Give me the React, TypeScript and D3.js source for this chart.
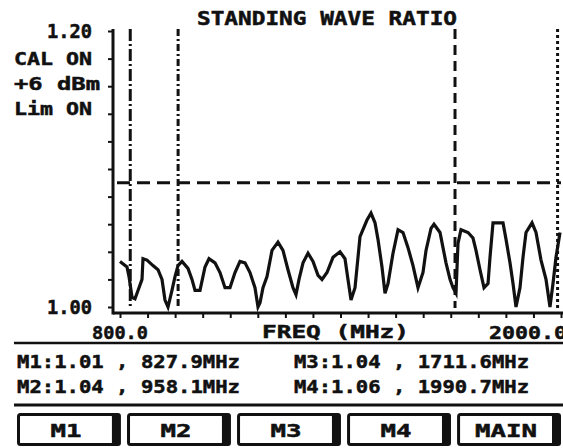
import { useRef, useEffect } from 'react'
import * as d3 from 'd3'

const W = 563
const H = 448
const FONT = "'DejaVu Sans Mono', monospace"

// trace, MHz / SWR
const FREQ = [
  800, 819, 824.5, 832.7, 840.8, 849, 859.9, 862.6, 873.5, 889.8, 903.4, 914.3, 922.4, 930.6, 941.4,
  949.7, 957.8, 968.7, 985, 995.9, 1004.1, 1017.7, 1031.3, 1042.2, 1058.5, 1072.1, 1085.7, 1099.3,
  1112.9, 1126.5, 1140.1, 1153.7, 1167.3, 1175.5, 1181, 1189.1, 1200, 1213.6, 1229.9, 1243.5, 1257.1,
  1270.7, 1278.9, 1287.1, 1298, 1311.6, 1325.2, 1338.8, 1349.7, 1363.3, 1379.6, 1398.6, 1412.2,
  1420.4, 1428.6, 1439.5, 1453.1, 1472.1, 1483, 1493.9, 1502, 1512.9, 1521.1, 1529.3, 1542.9, 1556.5,
  1570.1, 1583.7, 1597.3, 1610.9, 1624.5, 1632.7, 1646.3, 1654.4, 1670.8, 1678.9, 1687.1, 1698,
  1706.1, 1714.3, 1719.7, 1727.9, 1747, 1760.5, 1768.7, 1779.6, 1790.5, 1801.4, 1806.8, 1815, 1842.2,
  1850.4, 1861.2, 1869.4, 1877.6, 1888.4, 1896.6, 1904.8, 1921.1, 1932, 1945.6, 1959.2, 1970, 1978.2,
  1986.4, 1997.3,
]
const SWR = [
  1.033, 1.029, 1.022, 1.007, 1.006, 1.012, 1.02, 1.035, 1.034, 1.03, 1.027, 1.02, 1.005, 1.0, 1.012,
  1.022, 1.03, 1.033, 1.028, 1.02, 1.012, 1.012, 1.029, 1.035, 1.032, 1.025, 1.014, 1.014,
  1.025, 1.033, 1.032, 1.025, 1.014, 1.0, 1.003, 1.014, 1.022, 1.041, 1.047, 1.041, 1.027,
  1.014, 1.009, 1.02, 1.032, 1.039, 1.033, 1.023, 1.02, 1.025, 1.036, 1.04, 1.035,
  1.02, 1.005, 1.014, 1.051, 1.063, 1.068, 1.061, 1.049, 1.029, 1.01, 1.017, 1.039, 1.056,
  1.054, 1.043, 1.03, 1.014, 1.025, 1.041, 1.057, 1.06, 1.054, 1.043, 1.032, 1.02,
  1.014, 1.01, 1.046, 1.056, 1.054, 1.05, 1.041, 1.027, 1.014, 1.017, 1.036, 1.061, 1.061,
  1.049, 1.032, 1.017, 1.0, 1.014, 1.036, 1.054, 1.061, 1.054, 1.034, 1.02, 1.0, 1.017,
  1.036, 1.054,
]

const MARKERS = ['M1', 'M2', 'M3', 'M4']
const MARKER_FREQ = [827.9, 958.1, 1711.6, 1990.7]
const MARKER_SWR = [1.01, 1.04, 1.04, 1.06]
const MARKER_DASH = ['12,3,2,3', '7,3,2,3', '10,6', '3,3']
const LIMIT = 1.09

const Y_TICKS = d3.range(11).map((i) => +(1 + i * 0.02).toFixed(2))
const X_TICKS = d3.range(17).map((i) => 800 + i * 75)
const SIDE_LABELS = ['CAL ON', '+6 dBm', 'Lim ON']
const BUTTONS = ['M1', 'M2', 'M3', 'M4', 'MAIN']

export default function App() {
  const svgRef = useRef<SVGSVGElement>(null)

  useEffect(() => {
    if (!svgRef.current) return
    const svg = d3.select(svgRef.current)
    svg.selectAll('*').remove()

    const x = d3.scaleLinear().domain([800, 2000]).range([120, 561])
    const y = d3.scaleLinear().domain([1.0, 1.2]).range([307, 31])
    const axisY = 313

    // LCD-ish heavy text
    const txt = (s: string, tx: number, ty: number, len?: number, anchor = 'start', size = 18) => {
      const t = svg.append('text')
        .attr('x', tx).attr('y', ty)
        .attr('font-family', FONT).attr('font-weight', 'bold').attr('font-size', size)
        .attr('text-anchor', anchor).attr('fill', '#111')
        .attr('stroke', '#111').attr('stroke-width', 0.5)
        .text(s)
      if (len) t.attr('textLength', len).attr('lengthAdjust', 'spacingAndGlyphs')
      return t
    }

    // title + side status
    txt('STANDING WAVE RATIO', 197, 25, 260, 'start', 19)
    SIDE_LABELS.forEach((s, i) => txt(s, 14, 65 + i * 25, s.startsWith('+') ? 86 : 78))

    // y axis ticks
    svg.append('g')
      .attr('transform', 'translate(113,0)')
      .call(d3.axisLeft(y).tickValues(Y_TICKS).tickSize(5).tickSizeOuter(0).tickFormat(() => ''))
      .call((g) => {
        g.select('.domain').remove()
        g.selectAll('.tick line').attr('stroke', '#111').attr('stroke-width', 2)
      })
    ;[1.2, 1.0].forEach((v) => txt(v.toFixed(2), 92, y(v) + 7, 45, 'end', 19))

    // x axis ticks
    svg.append('g')
      .attr('transform', `translate(0,${axisY})`)
      .call(d3.axisBottom(x).tickValues(X_TICKS).tickSize(5).tickSizeOuter(0).tickFormat(() => ''))
      .call((g) => {
        g.select('.domain').remove()
        g.selectAll('.tick line').attr('stroke', '#111').attr('stroke-width', 2)
      })

    // axis lines
    svg.append('line').attr('x1', 113).attr('x2', 113).attr('y1', 29).attr('y2', axisY + 1.5)
      .attr('stroke', '#111').attr('stroke-width', 3)
    svg.append('line').attr('x1', 113).attr('x2', W).attr('y1', axisY).attr('y2', axisY)
      .attr('stroke', '#111').attr('stroke-width', 3)

    txt('800.0', x(800), 339, 56, 'middle')
    txt('FREQ  (MHz)', 262, 338, 147)
    txt('2000.0', 489, 339, 78)

    // limit line
    svg.append('line')
      .attr('x1', 117).attr('x2', x(2000)).attr('y1', y(LIMIT)).attr('y2', y(LIMIT))
      .attr('stroke', '#111').attr('stroke-width', 3).attr('stroke-dasharray', '13,7')

    // marker lines
    MARKER_FREQ.forEach((f, i) => {
      svg.append('line')
        .attr('x1', x(f)).attr('x2', x(f)).attr('y1', y(1.2) - 2).attr('y2', y(1.0) + 1)
        .attr('stroke', '#111').attr('stroke-width', 3).attr('stroke-dasharray', MARKER_DASH[i])
    })

    // trace
    const pts = FREQ.map((f, i) => [f, SWR[i]] as [number, number])
    const line = d3.line<[number, number]>().x((d) => x(d[0])).y((d) => y(d[1]))
    svg.append('path')
      .attr('d', line(pts))
      .attr('fill', 'none').attr('stroke', '#111').attr('stroke-width', 3.2)
      .attr('stroke-linejoin', 'miter')

    // separators
    svg.append('line').attr('x1', 14).attr('x2', W).attr('y1', 343).attr('y2', 343)
      .attr('stroke', '#111').attr('stroke-width', 2.5)
    svg.append('line').attr('x1', 14).attr('x2', W).attr('y1', 405).attr('y2', 405)
      .attr('stroke', '#111').attr('stroke-width', 3)

    // marker readouts
    MARKERS.forEach((m, i) => {
      const col = i < 2 ? 0 : 1
      const row = i % 2
      const s = `${m}:${MARKER_SWR[i].toFixed(2)} , ${MARKER_FREQ[i].toFixed(1)}MHz`
      txt(s, col ? 294 : 17, 368 + row * 25, col ? 235 : 223)
    })

    // soft keys
    const bx = d3.scaleBand<string>().domain(BUTTONS).range([17, 555]).paddingInner(0.11)
    BUTTONS.forEach((b) => {
      const x0 = bx(b) ?? 0
      const bw = bx.bandwidth()
      svg.append('rect').attr('x', x0 + 2).attr('y', 413).attr('width', bw + 4).attr('height', 33)
        .attr('rx', 3).attr('fill', '#111')
      svg.append('rect').attr('x', x0 + 1.5).attr('y', 414.5).attr('width', bw - 3).attr('height', 30)
        .attr('rx', 2).attr('fill', '#fff').attr('stroke', '#111').attr('stroke-width', 3)
      txt(b, x0 + bw / 2, 437, b.length * 15.5, 'middle')
    })
  }, [])

  return (
    <svg
      ref={svgRef}
      width={W}
      height={H}
      style={{ position: 'absolute', left: 0, top: 0, background: '#fff' }}
    />
  )
}
